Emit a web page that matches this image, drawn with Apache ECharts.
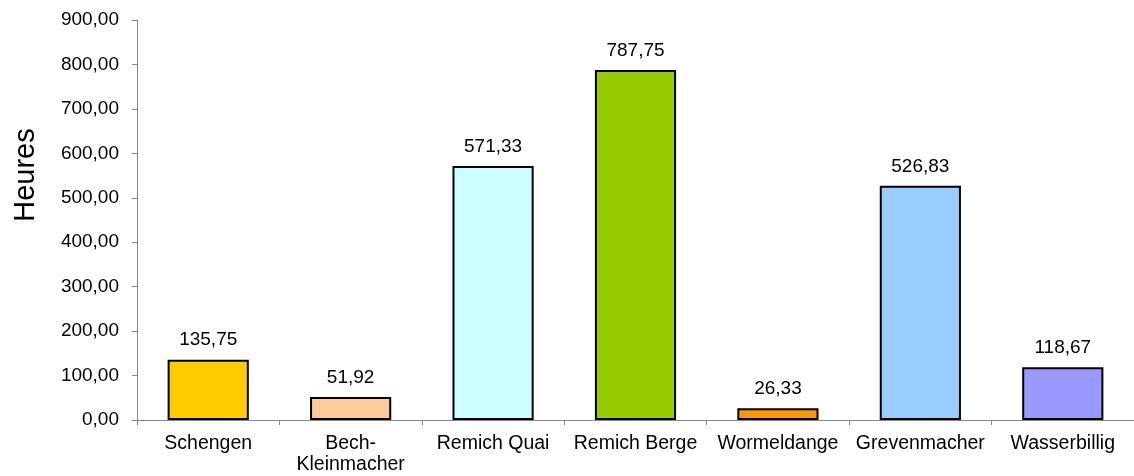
<!DOCTYPE html>
<html>
<head>
<meta charset="utf-8">
<script src="https://cdn.jsdelivr.net/npm/echarts@6/dist/echarts.min.js"></script>
<style>html,body{margin:0;padding:0;background:#fff}#c{width:1134px;height:476px}</style>
</head>
<body>
<div id="c"></div>
<script>
var categories = ['Schengen', 'Bech-\nKleinmacher', 'Remich Quai', 'Remich Berge', 'Wormeldange', 'Grevenmacher', 'Wasserbillig'];
var values = [135.75, 51.92, 571.33, 787.75, 26.33, 526.83, 118.67];
var barColors = ['#FFCC00', '#FFCC99', '#CCFFFF', '#99CC00', '#FF9900', '#99CCFF', '#9999FF'];
var yTicks = {min: 0, max: 900, interval: 100};

function fmt(v) { return Number(v).toFixed(2).replace('.', ','); }

var chart = echarts.init(document.getElementById('c'), null, {renderer: 'canvas'});
chart.setOption({
  animation: false,
  backgroundColor: '#ffffff',
  textStyle: {fontFamily: 'Liberation Sans, Arial, sans-serif'},
  grid: {left: 137, top: 20, width: 1003, bottom: 56, containLabel: false},
  xAxis: {
    type: 'category',
    data: categories,
    axisLine: {lineStyle: {color: '#888888', width: 1}},
    axisTick: {show: true, length: 5, alignWithLabel: false, lineStyle: {color: '#888888'}},
    axisLabel: {color: '#000', fontSize: 19.5, margin: 13, lineHeight: 21, interval: 0}
  },
  yAxis: {
    type: 'value',
    min: yTicks.min, max: yTicks.max, interval: yTicks.interval,
    name: 'Heures',
    nameLocation: 'middle',
    nameGap: 97,
    nameTextStyle: {color: '#000', fontSize: 29, padding: [0, 0, 0, 90]},
    splitLine: {show: false},
    axisLine: {show: true, lineStyle: {color: '#888888', width: 1}},
    axisTick: {show: true, length: 5, lineStyle: {color: '#888888'}},
    axisLabel: {color: '#000', fontSize: 19, margin: 18, formatter: fmt}
  },
  series: [{
    type: 'bar',
    data: values.map(function (v, i) { return {value: v, itemStyle: {color: barColors[i]}}; }),
    barCategoryGap: '43%',
    itemStyle: {borderColor: '#000', borderWidth: 2},
    label: {show: true, position: 'top', distance: 10, color: '#000', fontSize: 19, formatter: function (p) { return fmt(p.value); }}
  }]
});
</script>
</body>
</html>
